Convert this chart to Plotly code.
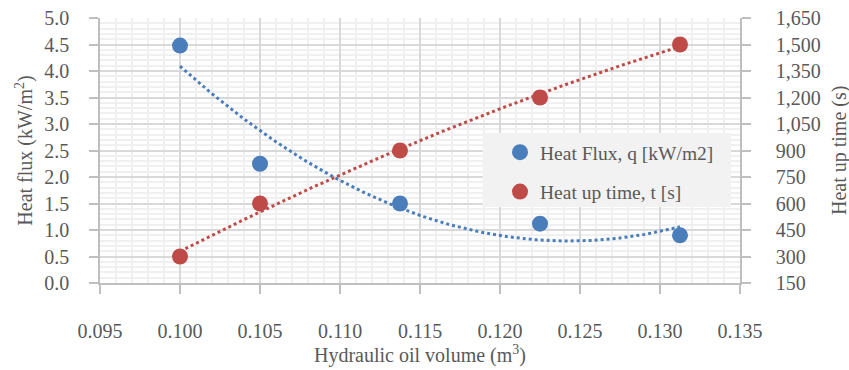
import numpy as np
import plotly.graph_objects as go

# Data
oil_volume = [0.100, 0.105, 0.11375, 0.1225, 0.13125]
heat_flux = [4.48, 2.25, 1.50, 1.12, 0.90]
heat_up_time = [300, 600, 900, 1200, 1500]

x_ticks = [0.095, 0.100, 0.105, 0.110, 0.115, 0.120, 0.125, 0.130, 0.135]

BLUE = "#4a7ebb"
RED = "#be4b48"
TXT = "#595959"
FONT = "Liberation Serif"

# polynomial (order 2) trendlines, as in the original spreadsheet chart
xf = np.linspace(min(oil_volume), max(oil_volume), 200)
pq = np.polyfit(oil_volume, heat_flux, 2)
pt = np.polyfit(oil_volume, heat_up_time, 2)

fig = go.Figure()
fig.add_trace(go.Scatter(x=oil_volume, y=heat_flux, mode="markers", name="Heat Flux, q [kW/m2]",
                         marker=dict(color=BLUE, size=16), legendgroup="a"))
fig.add_trace(go.Scatter(x=oil_volume, y=heat_up_time, mode="markers", name="Heat up time, t [s]",
                         marker=dict(color=RED, size=16), yaxis="y2", legendgroup="b"))
fig.add_trace(go.Scatter(x=xf, y=np.polyval(pq, xf), mode="lines", showlegend=False,
                         line=dict(color=BLUE, width=3, dash="dot"), hoverinfo="skip"))
fig.add_trace(go.Scatter(x=xf, y=np.polyval(pt, xf), mode="lines", showlegend=False, yaxis="y2",
                         line=dict(color=RED, width=3, dash="dot"), hoverinfo="skip"))

axis_common = dict(showline=True, linecolor="#bfbfbf", linewidth=1.5, ticks="outside",
                   ticklen=9, tickcolor="#bfbfbf", tickwidth=1.5, zeroline=False,
                   automargin=False,
                   tickfont=dict(family=FONT, size=20, color=TXT))

fig.update_layout(
    width=849, height=370,
    margin=dict(l=100, r=109, t=18, b=87),
    paper_bgcolor="white", plot_bgcolor="white",
    font=dict(family=FONT, size=20, color=TXT),
    showlegend=True,
    shapes=[dict(type="rect", xref="paper", yref="paper", x0=0.598, x1=0.986, y0=0.287, y1=0.566,
                 fillcolor="#f2f2f2", line=dict(width=0), layer="above")],
    annotations=[dict(text="Heat up time (s)", textangle=-90, xref="paper", yref="paper",
                      x=1.1555, y=0.5, xanchor="center", yanchor="middle", showarrow=False,
                      font=dict(family=FONT, size=20, color=TXT))],
    legend=dict(x=0.625, y=0.566, xanchor="left", yanchor="top", bgcolor="rgba(0,0,0,0)",
                font=dict(family=FONT, size=19.5, color=TXT), tracegroupgap=11,
                itemwidth=30),
    xaxis=dict(range=[0.095, 0.135], tickvals=x_ticks, ticktext=[f"{v:.3f}" for v in x_ticks],
               showgrid=True, gridcolor="#d9d9d9", gridwidth=1.5,
               minor=dict(dtick=0.001, tick0=0.095, showgrid=True, gridcolor="#f0f0f0", gridwidth=1.5),
               ticklabelstandoff=20,
               title=dict(text="Hydraulic oil volume (m<sup>3</sup>)", standoff=4,
                          font=dict(family=FONT, size=20, color=TXT)),
               **axis_common),
    yaxis=dict(range=[0, 5], dtick=0.5, tickformat=".1f",
               showgrid=True, gridcolor="#d9d9d9", gridwidth=1.5,
               minor=dict(dtick=0.1, showgrid=True, gridcolor="#f0f0f0", gridwidth=1.5),
               ticklabelstandoff=16,
               title=dict(text="Heat flux (kW/m<sup>2</sup>)", standoff=6,
                          font=dict(family=FONT, size=20, color=TXT)),
               **axis_common),
    yaxis2=dict(range=[150, 1650], dtick=150, tickformat=",", overlaying="y", side="right",
                showgrid=False, ticklabelstandoff=21,
                **axis_common),
)

fig.write_html("out.html")
